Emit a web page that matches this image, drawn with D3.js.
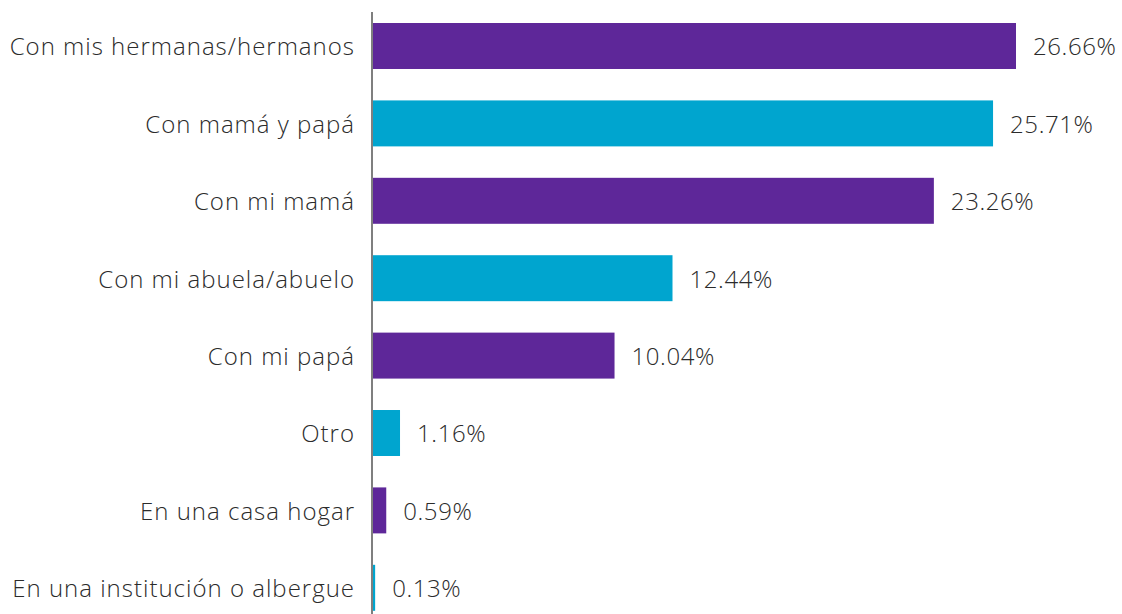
<!DOCTYPE html>
<html>
<head>
<meta charset="utf-8">
<script src="https://cdn.jsdelivr.net/npm/d3@7"></script>
<style>
  body { margin: 0; background: #ffffff; }
  svg text { font-family: "Open Sans", "Lato", sans-serif; font-weight: 300; fill: #2b2b2b; }
</style>
</head>
<body>
<div id="chartParent"></div>
<script>
// categories, top to bottom
const categories = [
  "Con mis hermanas/hermanos",
  "Con mamá y papá",
  "Con mi mamá",
  "Con mi abuela/abuelo",
  "Con mi papá",
  "Otro",
  "En una casa hogar",
  "En una institución o albergue"
];
const percentValues = [26.66, 25.71, 23.26, 12.44, 10.04, 1.16, 0.59, 0.13];
const valueLabels = ["26.66%", "25.71%", "23.26%", "12.44%", "10.04%", "1.16%", "0.59%", "0.13%"];
const barColors = ["#5e2799", "#00a5cf"];

const width = 1122, height = 614;
const axisX = 372;

const svg = d3.select("#chartParent")
  .append("svg")
  .attr("width", width)
  .attr("height", height);

// x scale: percent to pixels
const x = d3.scaleLinear()
  .domain([0, 26.66])
  .range([axisX, 1016]);

// y scale, bands for each row
const y = d3.scaleBand()
  .domain(categories)
  .range([7.3, 626.5])
  .paddingInner(0.406)
  .paddingOuter(0.203);

// bars
svg.append("g")
  .selectAll("rect")
  .data(categories)
  .enter()
  .append("rect")
    .attr("x", x(0))
    .attr("y", d => y(d))
    .attr("width", (d, i) => x(percentValues[i]) - x(0))
    .attr("height", y.bandwidth())
    .style("fill", (d, i) => barColors[i % 2]);

// axis line on the left
svg.append("line")
  .attr("x1", axisX)
  .attr("x2", axisX)
  .attr("y1", 12)
  .attr("y2", height)
  .attr("stroke", "#7f7f7f")
  .attr("stroke-width", 2);

// category labels
svg.append("g")
  .selectAll("text")
  .data(categories)
  .enter()
  .append("text")
    .attr("x", axisX - 17)
    .attr("y", d => y(d) + y.bandwidth() / 2 + 1)
    .attr("dy", "0.35em")
    .attr("text-anchor", "end")
    .style("font-size", "24px")
    .style("letter-spacing", "1px")
    .text(d => d);

// value labels
svg.append("g")
  .selectAll("text")
  .data(categories)
  .enter()
  .append("text")
    .attr("x", (d, i) => x(percentValues[i]) + 17)
    .attr("y", d => y(d) + y.bandwidth() / 2 + 1)
    .attr("dy", "0.35em")
    .style("font-size", "24px")
    .style("letter-spacing", "0.6px")
    .text((d, i) => valueLabels[i]);
</script>
</body>
</html>
